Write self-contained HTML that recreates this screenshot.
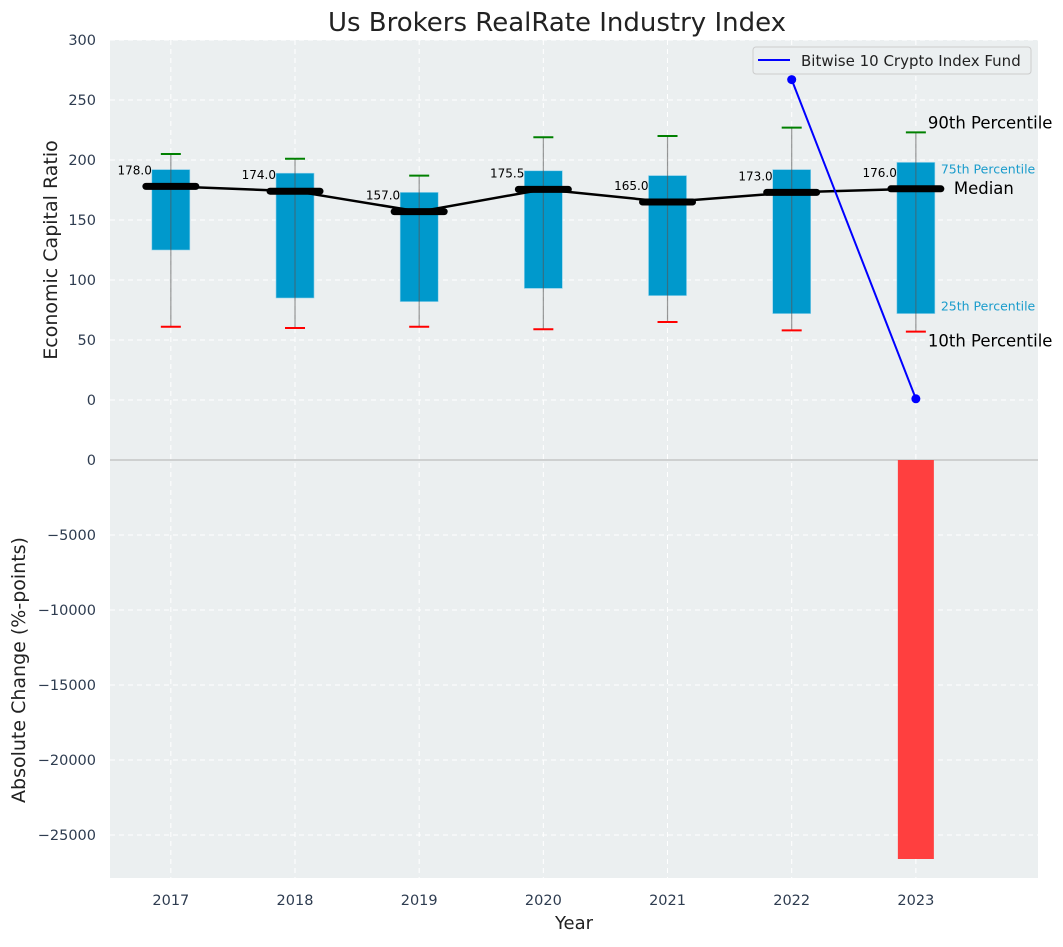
<!DOCTYPE html>
<html><head><meta charset="utf-8"><style>
body{margin:0;background:#fff;}
svg text{font-family:"DejaVu Sans","Liberation Sans",sans-serif;}
</style></head><body>
<svg id="c" width="1063" height="942" xmlns="http://www.w3.org/2000/svg"></svg>
<script>
const years=[2017,2018,2019,2020,2021,2022,2023];
const q1=[125,85,82,93,87,72,72];
const q3=[192,189,173,191,187,192,198];
const p10=[61,60,61,59,65,58,57];
const p90=[205,201,187,219,220,227,223];
const medians=[178,174,157,175.5,165,173,176];
const fundYears=[2022,2023];
const fundValues=[267,1];
const changeYears=[2023];
const changeValues=[-26600];
const topTicks=[0,50,100,150,200,250,300];
const botTicks=[0,-5000,-10000,-15000,-20000,-25000];

const S=document.getElementById('c');const NS='http://www.w3.org/2000/svg';
function el(t,a,p){const e=document.createElementNS(NS,t);for(const k in a)e.setAttribute(k,a[k]);(p||S).appendChild(e);return e;}
const L=110,R=1038;
const x=v=>L+(v-2016.51)*124.17;
const yT=v=>400-v*1.2;
function yb(v){return 460+(-v)*0.015;}
let bg=el('rect',{x:L,y:40,width:R-L,height:420,fill:'#ebeff0'});

let bg2=el('rect',{x:L,y:460,width:R-L,height:418,fill:'#ebeff0'});

topTicks.forEach(t=>{el('line',{x1:L,x2:R,y1:yT(t),y2:yT(t),stroke:'#fff','stroke-dasharray':'5,4','stroke-width':1});
 let tx=el('text',{x:96,y:yT(t)+5,'text-anchor':'end','font-size':14.5,fill:'#2e3c50'});tx.textContent=t;
 });
botTicks.forEach(t=>{el('line',{x1:L,x2:R,y1:yb(t),y2:yb(t),stroke:'#fff','stroke-dasharray':'5,4','stroke-width':1});
 let tx=el('text',{x:96,y:yb(t)+5,'text-anchor':'end','font-size':14.5,fill:'#2e3c50'});tx.textContent=String(t).replace('-','−');
 });
years.forEach(yr=>{el('line',{x1:x(yr),x2:x(yr),y1:40,y2:878,stroke:'#fff','stroke-dasharray':'5,4','stroke-width':1});
 let tx=el('text',{x:x(yr),y:905,'text-anchor':'middle','font-size':14.5,fill:'#2e3c50'});tx.textContent=yr;
 });
el('line',{x1:L,x2:R,y1:460,y2:460,stroke:'#b0b0b0','stroke-width':1});
years.forEach((yr,i)=>{const cx=x(yr);
 let b=el('rect',{x:cx-19,y:yT(q3[i]),width:38,height:yT(q1[i])-yT(q3[i]),fill:'#0099cc',stroke:'#8fd0ea','stroke-width':0.6});
 
 el('line',{x1:cx,x2:cx,y1:yT(p10[i]),y2:yT(p90[i]),stroke:'#555','stroke-opacity':0.6,'stroke-width':1.2});
 el('line',{x1:cx-10,x2:cx+10,y1:yT(p90[i]),y2:yT(p90[i]),stroke:'green','stroke-width':2});
 el('line',{x1:cx-10,x2:cx+10,y1:yT(p10[i]),y2:yT(p10[i]),stroke:'red','stroke-width':2});
});
let mp=el('polyline',{points:years.map((yr,i)=>x(yr)+','+yT(medians[i])).join(' '),fill:'none',stroke:'#000','stroke-width':2.5});

years.forEach((yr,i)=>{const cx=x(yr);
 let m=el('line',{x1:cx-25,x2:cx+25,y1:yT(medians[i]),y2:yT(medians[i]),stroke:'#000','stroke-width':7,'stroke-linecap':'round'});
 
 let t=el('text',{x:cx-19,y:yT(medians[i])-12,'text-anchor':'end','font-size':12,fill:'#000'});t.textContent=medians[i].toFixed(1);
 });
let fl=el('polyline',{points:fundYears.map((yr,i)=>x(yr)+','+yT(fundValues[i])).join(' '),fill:'none',stroke:'blue','stroke-width':2});

fundYears.forEach((yr,i)=>{let c=el('circle',{cx:x(yr),cy:yT(fundValues[i]),r:4.5,fill:'blue'});
 });
changeYears.forEach((yr,i)=>{let b=el('rect',{x:x(yr)-18,y:460,width:36,height:yb(changeValues[i])-460,fill:'#ff3f3f'});
 });
const last=years.length-1,ax=x(years[last]);
[['90th Percentile',p90[last],'#000',16.5,ax+12,-4],['75th Percentile',q3[last],'#1a9ccc',12.5,ax+25,11],['Median',medians[last],'#000',16.5,ax+38,5],['25th Percentile',q1[last],'#1a9ccc',12.5,ax+25,-3],['10th Percentile',p10[last],'#000',16.5,ax+12,15]].forEach(a=>{
 let t=el('text',{x:a[4],y:yT(a[1])+a[5],'font-size':a[3],fill:a[2]});t.textContent=a[0];
 });
let lg=el('g',{});
el('rect',{x:753,y:47,width:278,height:27,rx:3,fill:'#ebeff0',stroke:'#ccc'},lg);
el('line',{x1:758,x2:790,y1:60,y2:60,stroke:'blue','stroke-width':2},lg);
let lt=el('text',{x:801,y:66,'font-size':15,fill:'#222'},lg);lt.textContent='Bitwise 10 Crypto Index Fund';
let ti=el('text',{x:557,y:31,'text-anchor':'middle','font-size':26,fill:'#222'});ti.textContent='Us Brokers RealRate Industry Index';

let xt=el('text',{x:574,y:929,'text-anchor':'middle','font-size':18,fill:'#222'});xt.textContent='Year';

let y1=el('text',{x:0,y:0,'text-anchor':'middle','font-size':19,fill:'#222',transform:'translate(57,250) rotate(-90)'});y1.textContent='Economic Capital Ratio';

let y2=el('text',{x:0,y:0,'text-anchor':'middle','font-size':19,fill:'#222',transform:'translate(25,670) rotate(-90)'});y2.textContent='Absolute Change (%-points)';

</script>
</body></html>
